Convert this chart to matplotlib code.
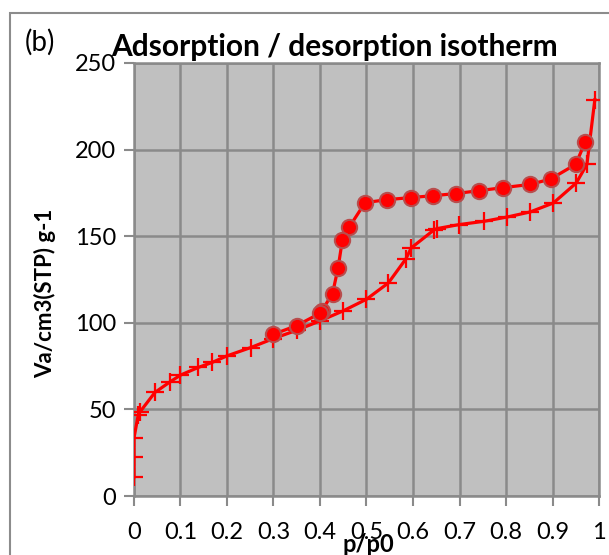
import matplotlib.pyplot as plt
from matplotlib.patches import Rectangle

# Adsorption branch (+ markers)
p_ads = [0.0, 0.0, 0.0, 0.009, 0.013, 0.045, 0.077, 0.10, 0.138, 0.168, 0.20,
         0.251, 0.30, 0.35, 0.40, 0.45, 0.50, 0.547, 0.585, 0.596, 0.646, 0.652,
         0.699, 0.753, 0.803, 0.852, 0.902, 0.951, 0.974, 0.991]
v_ads = [11.1, 22.4, 33.4, 46.7, 48.6, 59.8, 65.8, 69.8, 74.2, 77.1, 80.9,
         85.7, 90.9, 95.7, 101.1, 106.9, 113.6, 123.0, 137.0, 143.2, 153.8, 154.4,
         156.7, 158.6, 161.1, 164.0, 169.2, 180.7, 191.5, 228.8]

# Desorption branch (circles)
p_des = [0.970, 0.950, 0.896, 0.852, 0.793, 0.742, 0.692, 0.644, 0.595, 0.545,
         0.497, 0.463, 0.448, 0.439, 0.427, 0.404, 0.40, 0.35, 0.30]
v_des = [204.3, 191.5, 183.0, 179.9, 178.0, 176.3, 174.6, 173.4, 172.3, 171.1,
         169.4, 155.3, 147.6, 131.9, 116.9, 107.0, 105.5, 98.4, 93.4]

x_ticks = [0, 0.1, 0.2, 0.3, 0.4, 0.5, 0.6, 0.7, 0.8, 0.9, 1]
x_labels = ['0', '0.1', '0.2', '0.3', '0.4', '0.5', '0.6', '0.7', '0.8', '0.9', '1']
y_ticks = [0, 50, 100, 150, 200, 250]

plt.rcParams['font.family'] = ['Lato', 'DejaVu Sans']

fig = plt.figure(figsize=(6.09, 5.55), dpi=100)
ax = fig.add_axes([0.220, 0.1063, 0.7636, 0.7802])

# outer chart frame
fig.patches.append(Rectangle((10 / 609, -0.1), 2, 1.1 - 13 / 555, transform=fig.transFigure,
                             fill=False, edgecolor='#8c8c8c', linewidth=1.5))

ax.set_facecolor('#c0c0c0')
ax.plot(p_ads, v_ads, color='red', linewidth=2.3, marker='+', markersize=13,
        markeredgewidth=1.6, zorder=3)
ax.plot(p_des, v_des, color='red', linewidth=2.3, marker='o', markersize=11,
        markerfacecolor='red', markeredgecolor=(0.72, 0.3, 0.3), markeredgewidth=1.5, zorder=4)

ax.set_xlim(0, 1)
ax.set_ylim(0, 250)
ax.set_xticks(x_ticks)
ax.set_xticklabels(x_labels)
ax.set_yticks(y_ticks)
ax.grid(True, color='#8a8a8a', linewidth=1.8)
ax.set_axisbelow(True)
for s in ax.spines.values():
    s.set_color('#8a8a8a')
    s.set_linewidth(1.8)
ax.tick_params(direction='out', length=7, width=1.5, color='#8a8a8a', labelsize=17, pad=6)
ax.tick_params(axis='x', pad=12)

# titles and labels placed like the original chart
fig.text(111 / 609, 1 - 47 / 555, 'Adsorption / desorption isotherm', fontsize=21.5,
         fontweight='bold', ha='left', va='center')
fig.text(368 / 609, 1 - 544 / 555, 'p/p0', fontsize=17, fontweight='bold',
         ha='center', va='center')
fig.text(45 / 609, 1 - 293 / 555, 'Va/cm3(STP) g-1', fontsize=16, fontweight='bold',
         rotation=90, ha='center', va='center')
fig.text(25 / 609, 1 - 42 / 555, '(b)', fontsize=20, va='center', ha='left')

plt.savefig('out.png', dpi=100)
